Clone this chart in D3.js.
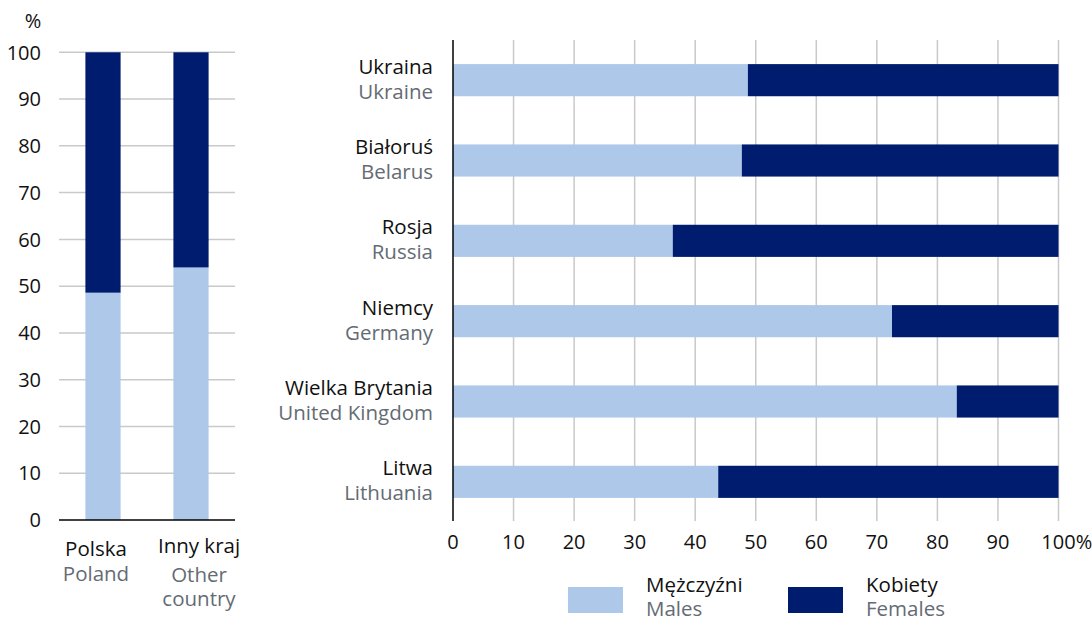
<!DOCTYPE html>
<html>
<head>
<meta charset="utf-8">
<script src="https://cdn.jsdelivr.net/npm/d3@7"></script>
<style>
  html, body { margin: 0; padding: 0; background: #fff; }
  svg { display: block; font-family: "Open Sans", "Noto Sans", sans-serif; }
</style>
</head>
<body>
<svg id="chart" width="1092" height="622"></svg>
<script>
// Left panel: share of males / females by country of birth
const originKeys = ["Polska", "Inny kraj"];
const originPl = ["Polska", "Inny kraj"];
const originEn = [["Poland"], ["Other", "country"]];
const originMales = [48.6, 54.0];

// Right panel: selected countries
const countryPl = ["Ukraina", "Białoruś", "Rosja", "Niemcy", "Wielka Brytania", "Litwa"];
const countryEn = ["Ukraine", "Belarus", "Russia", "Germany", "United Kingdom", "Lithuania"];
const countryMales = [48.7, 47.7, 36.3, 72.5, 83.2, 43.8];

const leftTicks = [0, 10, 20, 30, 40, 50, 60, 70, 80, 90, 100];
const rightTicks = [0, 10, 20, 30, 40, 50, 60, 70, 80, 90, 100];

const seriesPl = ["Mężczyźni", "Kobiety"];
const seriesEn = ["Males", "Females"];

const colMale = "#adc8e9";
const colFemale = "#001c6f";
const colGrid = "#c9c9c9";
const colText = "#111111";
const colSub = "#646b74";
const fsTick = 20;
const fs = 20.5;

const svg = d3.select("#chart");

// ---------- left panel ----------
const yL = d3.scaleLinear().domain([0, 100]).range([520, 52.3]);
const xL = d3.scaleBand().domain(originKeys).range([59, 235]).paddingInner(0.6).paddingOuter(0.3);

const gL = svg.append("g");
gL.selectAll("line.grid").data(leftTicks.filter(t => t > 0)).join("line")
  .attr("x1", 59).attr("x2", 235)
  .attr("y1", d => yL(d)).attr("y2", d => yL(d))
  .attr("stroke", colGrid).attr("stroke-width", 1.5);

gL.selectAll("text.tick").data(leftTicks).join("text")
  .attr("x", 41).attr("y", d => yL(d)).attr("dy", "0.36em")
  .attr("text-anchor", "end").attr("font-size", fsTick).attr("fill", colText)
  .text(d => d);

gL.append("text").attr("x", 33).attr("y", 28).attr("text-anchor", "middle")
  .attr("font-size", fsTick).attr("fill", colText).text("%");

originKeys.forEach((k, i) => {
  const m = originMales[i];
  gL.append("rect").attr("x", xL(k)).attr("width", xL.bandwidth())
    .attr("y", yL(m)).attr("height", yL(0) - yL(m)).attr("fill", colMale);
  gL.append("rect").attr("x", xL(k)).attr("width", xL.bandwidth())
    .attr("y", yL(100)).attr("height", yL(m) - yL(100)).attr("fill", colFemale);
});

gL.append("line").attr("x1", 59).attr("x2", 235).attr("y1", yL(0)).attr("y2", yL(0))
  .attr("stroke", "#000").attr("stroke-width", 1.5);

// category labels under the columns (Polish, then English in grey)
const labelShift = [-7, 8];
const labelTop = [556, 553];
const subLines = [[581], [582, 606]];
originKeys.forEach((k, i) => {
  const cx = xL(k) + xL.bandwidth() / 2 + labelShift[i];
  gL.append("text").attr("x", cx).attr("y", labelTop[i]).attr("text-anchor", "middle")
    .attr("font-size", fs).attr("fill", colText).text(originPl[i]);
  originEn[i].forEach((line, j) => {
    gL.append("text").attr("x", cx).attr("y", subLines[i][j]).attr("text-anchor", "middle")
      .attr("font-size", fs).attr("fill", colSub).text(line);
  });
});

// ---------- right panel ----------
const xR = d3.scaleLinear().domain([0, 100]).range([453, 1058.5]);
const yR = d3.scaleBand().domain(countryPl).range([40, 522]).paddingInner(0.6).paddingOuter(0.3);

const gR = svg.append("g");
gR.selectAll("line.grid").data(rightTicks.filter(t => t > 0)).join("line")
  .attr("x1", d => xR(d)).attr("x2", d => xR(d))
  .attr("y1", 40).attr("y2", 521)
  .attr("stroke", colGrid).attr("stroke-width", 1.5);

countryPl.forEach((c, i) => {
  const m = countryMales[i];
  gR.append("rect").attr("x", xR(0)).attr("width", xR(m) - xR(0))
    .attr("y", yR(c)).attr("height", yR.bandwidth()).attr("fill", colMale);
  gR.append("rect").attr("x", xR(m)).attr("width", xR(100) - xR(m))
    .attr("y", yR(c)).attr("height", yR.bandwidth()).attr("fill", colFemale);
  const cy = yR(c) + yR.bandwidth() / 2;
  gR.append("text").attr("x", 433).attr("y", cy - 6.5).attr("text-anchor", "end")
    .attr("font-size", fs).attr("fill", colText).text(c);
  gR.append("text").attr("x", 433).attr("y", cy + 18.5).attr("text-anchor", "end")
    .attr("font-size", fs).attr("fill", colSub).text(countryEn[i]);
});

gR.append("line").attr("x1", xR(0)).attr("x2", xR(0)).attr("y1", 40).attr("y2", 521)
  .attr("stroke", "#000").attr("stroke-width", 1.5);

rightTicks.forEach(t => {
  const tx = gR.append("text").attr("x", xR(t)).attr("y", 549).attr("text-anchor", "middle")
    .attr("font-size", fsTick).attr("fill", colText).text(t);
  if (t === 100) {
    const w = tx.node().getComputedTextLength();
    gR.append("text").attr("x", xR(t) + w / 2).attr("y", 549)
      .attr("font-size", fsTick).attr("fill", colText).text("%");
  }
});

// ---------- legend ----------
const legX = d3.scaleOrdinal().domain(seriesPl).range([568, 788]);
const legCol = d3.scaleOrdinal().domain(seriesPl).range([colMale, colFemale]);
seriesPl.forEach((s, i) => {
  const lx = legX(s);
  svg.append("rect").attr("x", lx).attr("y", 587).attr("width", 55).attr("height", 26)
    .attr("fill", legCol(s));
  svg.append("text").attr("x", lx + 78).attr("y", 592).attr("font-size", fs)
    .attr("fill", colText).text(s);
  svg.append("text").attr("x", lx + 78).attr("y", 616).attr("font-size", fs)
    .attr("fill", colSub).text(seriesEn[i]);
});
</script>
</body>
</html>
